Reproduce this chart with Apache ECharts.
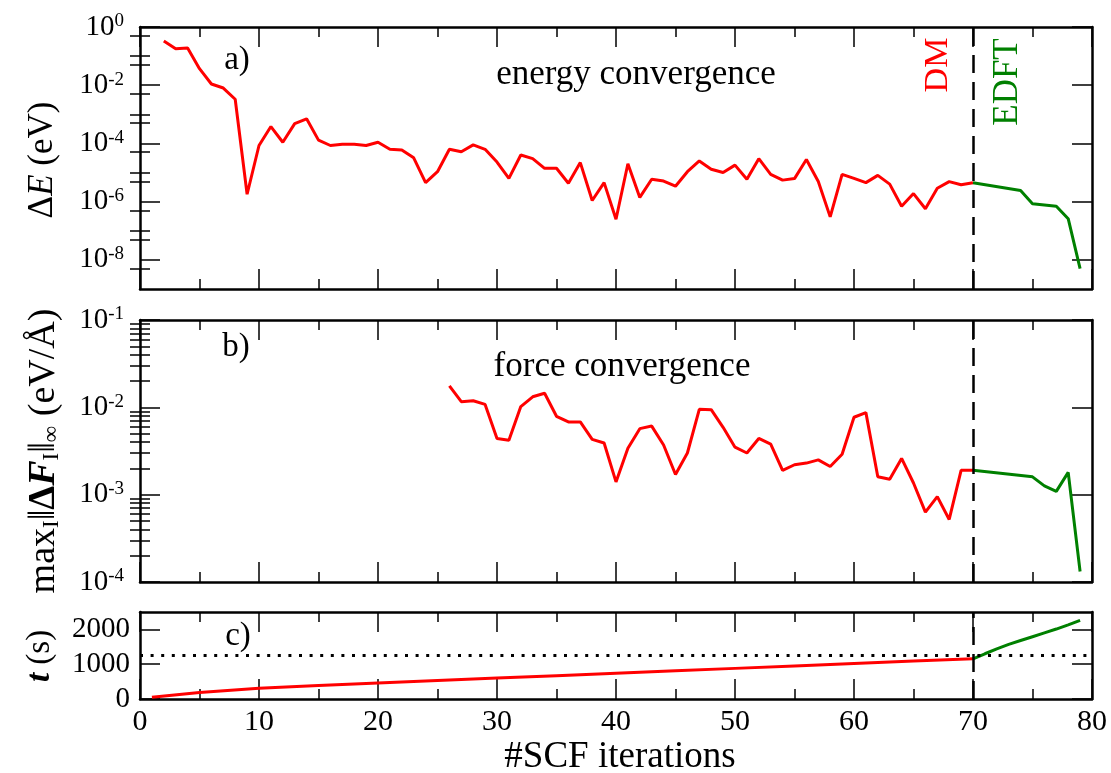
<!DOCTYPE html>
<html><head><meta charset="utf-8">
<script src="https://cdn.jsdelivr.net/npm/echarts@6/dist/echarts.min.js"></script>
<style>html,body{margin:0;padding:0;background:#fff}#c{width:1111px;height:773px}</style>
</head><body><div id="c"></div>
<script>
// ---------- data ----------
const iterEnergyDM = [2,3,4,5,6,7,8,9,10,11,12,13,14,15,16,17,18,19,20,21,22,23,24,25,26,27,28,29,30,31,32,33,34,35,36,37,38,39,40,41,42,43,44,45,46,47,48,49,50,51,52,53,54,55,56,57,58,59,60,61,62,63,64,65,66,67,68,69,70];
const energyDM = [3.3e-1,1.8e-1,1.9e-1,3.7e-2,1.1e-2,8e-3,3.3e-3,1.8e-6,8.5e-5,3.8e-4,1.1e-4,4.8e-4,7e-4,1.3e-4,8.5e-5,9.3e-5,9.3e-5,8.5e-5,1.1e-4,6.3e-5,6e-5,3.2e-5,4.5e-6,1.07e-5,6.3e-5,5.2e-5,8.9e-5,6.3e-5,2.3e-5,6.3e-6,4e-5,3e-5,1.4e-5,1.4e-5,4.3e-6,2.2e-5,1.1e-6,4.5e-6,2.5e-7,2e-5,1.4e-6,5.9e-6,5.1e-6,3.4e-6,1.07e-5,2.5e-5,1.3e-5,1e-5,1.8e-5,5.9e-6,3e-5,8.7e-6,5.5e-6,6.2e-6,2.8e-5,4.9e-6,3e-7,8.7e-6,6.3e-6,4.5e-6,8e-6,4e-6,7e-7,1.9e-6,5.7e-7,2.9e-6,4.9e-6,3.8e-6,4.5e-6];
const iterEnergyEDFT = [70,74,75,77,78,79];
const energyEDFT = [4.5e-6,2.4e-6,8.5e-7,7e-7,2.6e-7,5e-9];

const iterForceDM = [26,27,28,29,30,31,32,33,34,35,36,37,38,39,40,41,42,43,44,45,46,47,48,49,50,51,52,53,54,55,56,57,58,59,60,61,62,63,64,65,66,67,68,69,70];
const forceDM = [0.0176,0.0116,0.0119,0.0108,0.0044,0.0042,0.0102,0.0132,0.0145,0.0079,0.0068,0.0068,0.0043,0.0039,0.0014,0.0034,0.0057,0.0061,0.0037,0.0017,0.0030,0.0095,0.0094,0.0059,0.0035,0.0030,0.0044,0.0038,0.0019,0.0022,0.0023,0.0025,0.0021,0.0029,0.0077,0.0087,0.0016,0.0015,0.0026,0.00136,0.00063,0.00095,0.00052,0.0019,0.0019];
const iterForceEDFT = [70,75,76,77,78,79];
const forceEDFT = [0.0019,0.0016,0.00126,0.00109,0.0018,0.000132];

const iterTimeDM = [1,5,10,15,20,25,30,35,40,45,50,55,60,65,70];
const timeDM = [50,190,310,390,460,530,600,670,740,810,880,950,1020,1090,1155];
const iterTimeEDFT = [70,71,72,73,74,75,76,77,78,79];
const timeEDFT = [1155,1300,1440,1570,1680,1790,1900,2010,2130,2260];

const energyTol = 1e-7;
const forceTol = 5e-4;
const timeRef = 1250;
const switchIter = 70;

const energyMajor = [1e-8,1e-6,1e-4,1e-2,1];
const energyMinor = [5e-9,1e-7,5e-7,5e-8,1e-5,5e-6,5e-5,1e-3,5e-4,5e-3,1e-1,5e-2,5e-1];
const forceMajor = [1e-4,1e-3,1e-2,1e-1];
const forceMinor = [2e-4,3e-4,4e-4,5e-4,6e-4,7e-4,8e-4,9e-4,2e-3,3e-3,4e-3,5e-3,6e-3,7e-3,8e-3,9e-3,2e-2,3e-2,4e-2,5e-2,6e-2,7e-2,8e-2,9e-2];
const timeTicks = [0,1000,2000];

// ---------- styling ----------
const FONT = '"Liberation Serif", "DejaVu Serif", serif';
const RED = '#ff0000', GREEN = '#008000', BLUE = '#0000ff';
const frame = {lineStyle:{color:'#000', width:2.5}};
const grids = [
  {left:140, right:19, top:27, height:262},
  {left:140, right:19, top:320, height:262},
  {left:140, right:19, top:612, height:87}
];
function zip(xs, ys){ return xs.map((x,i)=>[x, ys[i]]); }
function sci(v){ const e = Math.round(Math.log10(v)); return '{b|10}{e|' + e + '}'; }
const sciRich = {
  b:{fontFamily:FONT, fontSize:29, color:'#000', lineHeight:30},
  e:{fontFamily:FONT, fontSize:19, color:'#000', verticalAlign:'top', lineHeight:18}
};

const xAxes = [];
for (let g=0; g<3; g++){
  ['bottom','top'].forEach(pos=>{
    xAxes.push({
      type:'value', gridIndex:g, position:pos, min:0, max:80, interval:10,
      axisLine:Object.assign({show:true, onZero:false}, frame),
      axisTick:{show:true, inside:true, length:20, lineStyle:{color:'#000', width:1.5}},
      minorTick:{show:true, splitNumber:2, length:10, lineStyle:{color:'#000', width:1.5}},
      splitLine:{show:false},
      axisLabel:{show:(g===2 && pos==='bottom'), fontFamily:FONT, fontSize:30, color:'#000', margin:8,
        formatter:v=>String(v)}
    });
  });
}

const yAxes = [];
function logAxes(g, min, max, major, minor){
  ['left','right'].forEach(pos=>{
    yAxes.push({
      type:'log', logBase:10, gridIndex:g, position:pos, min:min, max:max,
      axisLine:Object.assign({show:true, onZero:false}, frame),
      axisTick:{show:true, inside:true, length:20, customValues:major, lineStyle:{color:'#000', width:1.5}},
      splitLine:{show:false},
      axisLabel:{show:pos==='left', customValues:major, formatter:sci, rich:sciRich, fontFamily:FONT, margin:16}
    });
    yAxes.push({
      type:'log', logBase:10, gridIndex:g, position:pos, min:min, max:max,
      axisLine:{show:false},
      axisTick:{show:true, inside:true, length:10, customValues:minor, lineStyle:{color:'#000', width:1.5}},
      splitLine:{show:false},
      axisLabel:{show:false}
    });
  });
}
logAxes(0, 1e-9, 1, energyMajor, energyMinor);
logAxes(1, 1e-4, 1e-1, forceMajor, forceMinor);
['left','right'].forEach(pos=>{
  yAxes.push({
    type:'value', gridIndex:2, position:pos, min:0, max:2500,
    axisLine:Object.assign({show:true, onZero:false}, frame),
    axisTick:{show:true, inside:true, length:20, customValues:timeTicks, lineStyle:{color:'#000', width:1.5}},
    splitLine:{show:false},
    axisLabel:{show:pos==='left', customValues:timeTicks, fontFamily:FONT, fontSize:29, color:'#000', margin:10,
      formatter:v=>String(v)}
  });
});

function marks(tolValue, tolColor){
  return {
    silent:true, symbol:'none', label:{show:false}, animation:false,
    data:[
      {yAxis:tolValue, lineStyle:{color:tolColor, type:[3,7.6], width:3}},
      {xAxis:switchIter, lineStyle:{color:'#000', type:[18,9], width:2.5}}
    ]
  };
}
function line(name, data, color, xi, yi, ml){
  const s = {name, type:'line', data, xAxisIndex:xi, yAxisIndex:yi, showSymbol:false, symbol:'none',
    lineStyle:{color, width:3}, itemStyle:{color}, z:3, animation:false};
  if (ml) s.markLine = ml;
  return s;
}

const series = [
  line('ΔE DM', zip(iterEnergyDM, energyDM), RED, 0, 0, marks(energyTol, BLUE)),
  line('ΔE EDFT', zip(iterEnergyEDFT, energyEDFT), GREEN, 0, 0),
  line('F DM', zip(iterForceDM, forceDM), RED, 2, 4, marks(forceTol, BLUE)),
  line('F EDFT', zip(iterForceEDFT, forceEDFT), GREEN, 2, 4),
  line('t DM', zip(iterTimeDM, timeDM), RED, 4, 8, marks(timeRef, '#000')),
  line('t EDFT', zip(iterTimeEDFT, timeEDFT), GREEN, 4, 8)
];

function txt(x, y, text, size, color, rot, rich){
  const st = {text, x:0, y:0, fill:color||'#000', fontFamily:FONT, fontSize:size, align:'center', verticalAlign:'middle'};
  if (rich) st.rich = rich;
  return {type:'text', x, y, rotation:rot||0, style:st, z:10, silent:true};
}
const R = Math.PI/2;
const graphic = [
  txt(237, 60, 'a)', 33),
  txt(636, 75, 'energy convergence', 35),
  txt(938, 65, 'DM', 34, RED, R),
  txt(1008, 82, 'EDFT', 35, GREEN, R),
  txt(236, 347, 'b)', 33),
  txt(622, 367, 'force convergence', 35),
  txt(238, 636, 'c)', 33),
  txt(620, 757, '#SCF iterations', 37),
  txt(43, 160, '{n|Δ}{i|E}{n| (eV)}', 35, '#000', R, {
    n:{fontFamily:FONT, fontSize:35, fill:'#000'},
    i:{fontFamily:FONT, fontSize:35, fontStyle:'italic', fill:'#000'}
  }),
  txt(44, 451, '{n|max}{s|I}{n|‖}{bd|Δ}{bf|F}{s|I}{n|‖}{s|∞}{n| (eV/Å)}', 38, '#000', R, {
    n:{fontFamily:FONT, fontSize:38, fill:'#000'},
    s:{fontFamily:FONT, fontSize:23, fill:'#000', verticalAlign:'bottom'},
    bd:{fontFamily:FONT, fontSize:38, fontWeight:'bold', fill:'#000'},
    bf:{fontFamily:FONT, fontSize:38, fontWeight:'bold', fontStyle:'italic', fill:'#000'}
  }),
  txt(40, 656, '{t|t}{n| (s)}', 33, '#000', R, {
    t:{fontFamily:FONT, fontSize:33, fontWeight:'bold', fontStyle:'italic', fill:'#000'},
    n:{fontFamily:FONT, fontSize:33, fill:'#000'}
  })
];

const chart = echarts.init(document.getElementById('c'), null, {renderer:'canvas'});
chart.setOption({
  backgroundColor:'#fff', animation:false, textStyle:{fontFamily:FONT},
  grid:grids, xAxis:xAxes, yAxis:yAxes, series, graphic
});
</script></body></html>
